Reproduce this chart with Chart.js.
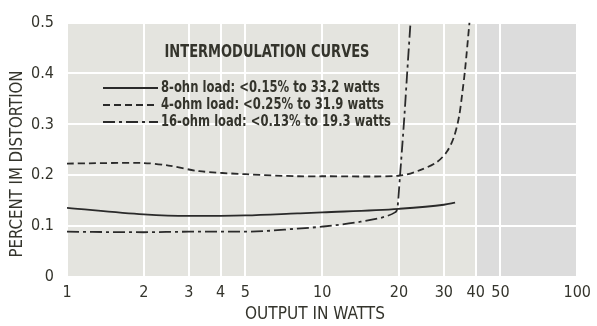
<!DOCTYPE html>
<html>
<head>
<meta charset="utf-8">
<script src="https://cdn.jsdelivr.net/npm/chart.js@4.4.1/dist/chart.umd.min.js"></script>
<style>
  html, body { margin: 0; padding: 0; background: #fff; }
</style>
</head>
<body>
<canvas id="imChart" width="597" height="326"></canvas>
<script>
// tick values
const xTicks = [1, 2, 3, 4, 5, 10, 20, 30, 40, 50, 100];
const yTicks = [0, 0.1, 0.2, 0.3, 0.4, 0.5];

// 8 ohm load (solid)
const load8Watts = [1, 2, 3, 5, 8, 10, 20, 30, 33.2];
const load8Dist  = [0.136, 0.123, 0.12, 0.121, 0.125, 0.127, 0.134, 0.142, 0.146];

// 4 ohm load (dashed)
const load4Watts = [1, 2, 2.5, 3.3, 5, 8, 10, 20, 24.2, 28.2, 30.9, 32.9, 34.4, 35.4, 36.3, 37.8];
const load4Dist  = [0.223, 0.224, 0.219, 0.208, 0.202, 0.198, 0.198, 0.199, 0.21, 0.226, 0.247, 0.276, 0.315, 0.36, 0.406, 0.5];

// 16 ohm load (dash-dot)
const load16Watts = [1, 2, 3, 5, 8, 10, 13.5, 18, 19.3, 19.7, 20.2, 21.0, 21.6, 22.2];
const load16Dist  = [0.089, 0.088, 0.089, 0.089, 0.095, 0.099, 0.107, 0.12, 0.127, 0.134, 0.2, 0.315, 0.41, 0.5];

const legendTitle = "INTERMODULATION CURVES";
const legendLabels = [
  "8-ohn load: <0.15% to 33.2 watts",
  "4-ohm load: <0.25% to 31.9 watts",
  "16-ohm load: <0.13% to 19.3 watts"
];

const FONT = "'Liberation Sans Narrow', 'DejaVu Sans Condensed', 'Roboto Condensed', Roboto, sans-serif";
const INK = "#34342c";
const LINE = "#2a2a2a";

function toPoints(xs, ys) {
  return xs.map((x, i) => ({ x: x, y: ys[i] }));
}

// draws text squeezed to a given width (the print uses a condensed face)
function fitText(ctx, text, x, y, width, align) {
  const w = ctx.measureText(text).width;
  ctx.save();
  ctx.translate(x, y);
  ctx.scale(width / w, 1);
  ctx.textAlign = align;
  ctx.fillText(text, 0, 0);
  ctx.restore();
}

const paperPlugin = {
  id: "paper",
  beforeDraw(chart) {
    const { ctx, chartArea: a, scales } = chart;
    ctx.save();
    ctx.fillStyle = "#e4e4df";
    ctx.fillRect(a.left, a.top, a.right - a.left, a.bottom - a.top);
    const x40 = scales.x.getPixelForValue(40);
    ctx.fillStyle = "#dcdcdc";
    ctx.fillRect(x40, a.top, a.right - x40, a.bottom - a.top);
    ctx.restore();
  }
};

const notesPlugin = {
  id: "notes",
  afterDraw(chart) {
    const ctx = chart.ctx;
    const sets = chart.data.datasets;
    ctx.save();
    ctx.fillStyle = INK;
    ctx.textBaseline = "middle";

    ctx.font = "bold 18px " + FONT;
    fitText(ctx, legendTitle, 267, 52, 205, "center");

    const rowY = [88, 105, 122];
    const rowW = [219, 223, 230];
    ctx.font = "bold 16px " + FONT;
    legendLabels.forEach((label, i) => {
      ctx.save();
      ctx.strokeStyle = LINE;
      ctx.lineWidth = 2;
      ctx.setLineDash(sets[i].borderDash || []);
      ctx.beginPath();
      ctx.moveTo(103, rowY[i]);
      ctx.lineTo(158, rowY[i]);
      ctx.stroke();
      ctx.restore();
      fitText(ctx, label, 161, rowY[i], rowW[i], "left");
    });

    ctx.font = "17px " + FONT;
    fitText(ctx, "OUTPUT IN WATTS", 315, 315, 140, "center");

    ctx.save();
    ctx.translate(18, 164);
    ctx.rotate(-Math.PI / 2);
    fitText(ctx, "PERCENT IM DISTORTION", 0, 0, 187, "center");
    ctx.restore();

    ctx.restore();
  }
};

const ctx = document.getElementById("imChart").getContext("2d");
new Chart(ctx, {
  type: "line",
  data: {
    datasets: [
      {
        label: "8-ohm",
        data: toPoints(load8Watts, load8Dist),
        borderColor: LINE,
        borderWidth: 1.8,
        pointRadius: 0,
        cubicInterpolationMode: "monotone"
      },
      {
        label: "4-ohm",
        data: toPoints(load4Watts, load4Dist),
        borderColor: LINE,
        borderWidth: 1.8,
        borderDash: [7, 4],
        pointRadius: 0,
        tension: 0.3
      },
      {
        label: "16-ohm",
        data: toPoints(load16Watts, load16Dist),
        borderColor: LINE,
        borderWidth: 1.8,
        borderDash: [12, 4, 3, 4],
        pointRadius: 0,
        cubicInterpolationMode: "monotone"
      }
    ]
  },
  options: {
    responsive: false,
    animation: false,
    layout: { padding: { top: 19, right: 16, left: 0, bottom: 0 } },
    plugins: {
      legend: { display: false },
      tooltip: { enabled: false }
    },
    scales: {
      x: {
        type: "logarithmic",
        min: 1,
        max: 100,
        afterBuildTicks: (scale) => { scale.ticks = xTicks.map(v => ({ value: v })); },
        afterFit: (scale) => { scale.height = 49; },
        ticks: {
          autoSkip: false,
          maxRotation: 0,
          padding: 6,
          color: INK,
          font: { family: FONT, size: 16 },
          callback: (v) => String(v)
        },
        grid: { color: "#ffffff", lineWidth: 2, drawTicks: false },
        border: { display: false }
      },
      y: {
        type: "linear",
        min: 0,
        max: 0.5,
        afterBuildTicks: (scale) => { scale.ticks = yTicks.map(v => ({ value: v })); },
        afterFit: (scale) => { scale.width = 67; },
        ticks: {
          padding: 13,
          color: INK,
          font: { family: FONT, size: 16 },
          callback: (v) => (v === 0 ? "0" : v.toFixed(1))
        },
        grid: { color: "#ffffff", lineWidth: 2, drawTicks: false },
        border: { display: false }
      }
    }
  },
  plugins: [paperPlugin, notesPlugin]
});
</script>
</body>
</html>
